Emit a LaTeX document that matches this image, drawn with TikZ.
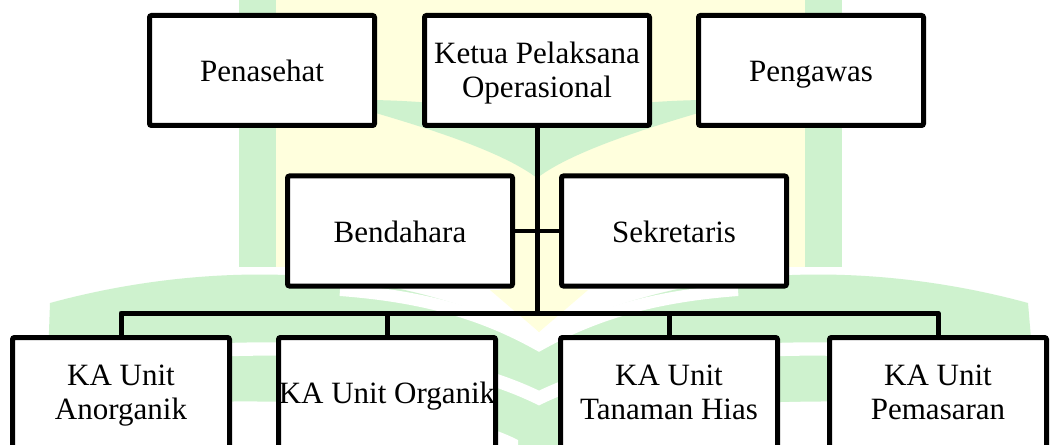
\documentclass[tikz,border=0pt]{standalone}
\usepackage{fontspec}
\setmainfont{Liberation Serif}
\definecolor{wmgreen}{RGB}{206,242,206}
\definecolor{wmyellow}{RGB}{255,255,221}
\newcommand{\firstl}{\rule{0pt}{20.5pt}}
\newcommand{\lastl}{\rule[-6pt]{0pt}{6pt}}
\begin{document}
\begin{tikzpicture}[x=0.75pt,y=-0.75pt,
  box/.style={draw=black,line width=3.75pt,fill=white,rounded corners=1.5pt,
    minimum width=168.75pt,minimum height=82.5pt,align=center,inner sep=0pt,
    font=\fontsize{23.25}{25.5}\selectfont},
  single/.style={text height=20pt,text depth=3pt},
  lowbox/.style={box,minimum width=162.75pt},
  conn/.style={draw=black,line width=3.75pt},
  thinconn/.style={draw=black,line width=3pt}]
\useasboundingbox (0,0) rectangle (1056,445);
\clip (0,0) rectangle (1056,445);
\fill[white] (0,0) rectangle (1056,445);
% ---- watermark (background) ----
\fill[wmyellow] (276,0) rectangle (805,267);
\fill[wmyellow] (480,265) -- (600,265) -- (539,332) -- cycle;
\fill[wmgreen] (239,0) rectangle (276,267);
\fill[wmgreen] (805,0) rectangle (842,267);
\fill[wmgreen] (330,100) .. controls (430,98) and (520,110) .. (537,128) -- (537,178)
  .. controls (500,150) and (420,125) .. (330,100) -- cycle;
\fill[wmgreen] (744,100) .. controls (644,98) and (554,110) .. (537,128) -- (537,178)
  .. controls (574,150) and (654,125) .. (744,100) -- cycle;
\fill[wmgreen] (45,445) -- (50,303) .. controls (200,262) and (390,258) .. (539,340)
  .. controls (688,258) and (878,262) .. (1028,303) -- (1040,445) -- cycle;
\fill[wmyellow] (490,290) -- (588,290) -- (539,332) -- cycle;
\draw[white,line width=9pt] (340,290) .. controls (420,296) and (480,312) .. (539,345)
  .. controls (598,312) and (658,296) .. (738,290);
\draw[white,line width=10pt] (40,368) .. controls (250,335) and (430,345) .. (539,398)
  .. controls (648,345) and (828,335) .. (1040,368);
\fill[white] (30,445) -- (30,412) .. controls (250,392) and (440,400) .. (518,440)
  -- (518,445) -- cycle;
\fill[white] (1048,445) -- (1048,412) .. controls (828,392) and (638,400) .. (560,440)
  -- (560,445) -- cycle;
% ---- chart ----
\node[box,single] (pen) at (262,70.5) {Penasehat};
\node[box] (ket) at (537,70.5) {\firstl Ketua Pelaksana\\Operasional\lastl};
\node[box,single] (peng) at (811,70.5) {Pengawas};
\node[box,single] (bend) at (400,231) {Bendahara};
\node[box,single] (sekr) at (674,231) {Sekretaris};
\node[lowbox] (anorg) at (121,392.5) {\firstl KA Unit\\Anorganik\lastl};
\node[lowbox,single] (org) at (387,392.5) {KA Unit Organik};
\node[lowbox] (tan) at (669,392.5) {\firstl KA Unit\\Tanaman Hias\lastl};
\node[lowbox] (pem) at (938,392.5) {\firstl KA Unit\\Pemasaran\lastl};
\coordinate (bus) at (537,313);
\draw[conn] (ket.south) -- (bus);
\draw[thinconn] (bend.east) -- (sekr.west);
\draw[conn,line join=round] (anorg.north) |- (bus) -| (pem.north);
\draw[conn] (org.north) -- (org.north |- bus);
\draw[conn] (tan.north) -- (tan.north |- bus);
\end{tikzpicture}
\end{document}
